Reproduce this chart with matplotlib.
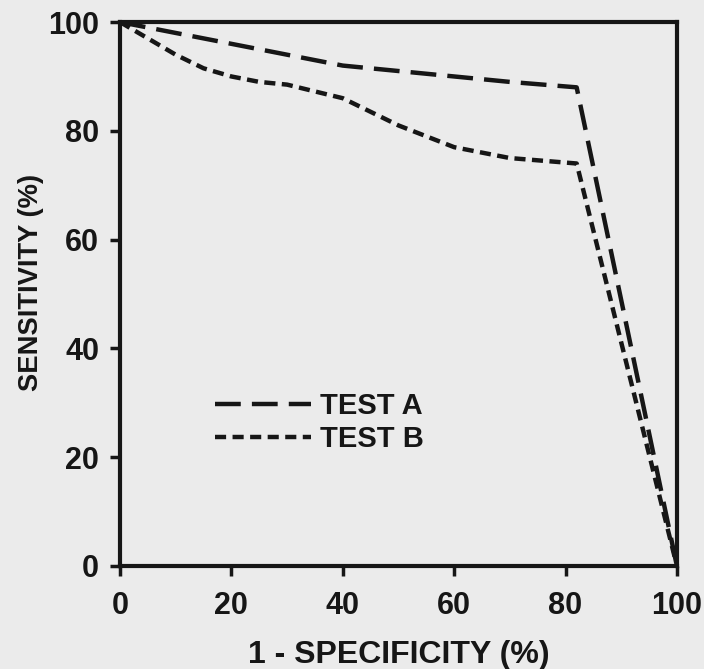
import matplotlib
matplotlib.use("Agg")
from matplotlib import pyplot as plt

# ROC curves (x = 1 - specificity, y = sensitivity, both %)
test_a_x = [0, 10, 20, 30, 40, 50, 60, 70, 82, 100]
test_a_y = [100, 98, 96, 94, 92, 91, 90, 89, 88, 0]

test_b_x = [0, 5, 10, 15, 20, 25, 30, 40, 50, 60, 70, 82, 100]
test_b_y = [100, 97, 94, 91.5, 90, 89, 88.5, 86, 81, 77, 75, 74, 0]

ticks = [0, 20, 40, 60, 80, 100]

plt.rcParams['font.family'] = ['Liberation Sans', 'DejaVu Sans']
plt.rcParams['font.weight'] = 'bold'

bg = '#ebebeb'
ink = '#161616'
fig = plt.figure(figsize=(7.04, 6.69), dpi=100, facecolor=bg)
ax = fig.add_axes([0.1705, 0.154, 0.791, 0.813], facecolor=bg)

lw = 3.2
ax.plot(test_a_x, test_a_y, color=ink, lw=lw,
        dashes=(5.8, 2.5), label='TEST A')
ax.plot(test_b_x, test_b_y, color=ink, lw=lw,
        dashes=(2.5, 1.45), label='TEST B')

ax.set_xlim(0, 100)
ax.set_ylim(0, 100)
ax.set_xticks(ticks)
ax.set_yticks(ticks)
ax.tick_params(direction='out', length=7, width=2.5, labelsize=22,
               colors=ink, pad=8)
ax.tick_params(axis='x', pad=11)
for lab in ax.get_xticklabels() + ax.get_yticklabels():
    lab.set_fontweight('bold')
for sp in ax.spines.values():
    sp.set_linewidth(3)
    sp.set_color(ink)

ax.set_xlabel('1 - SPECIFICITY (%)', fontsize=23, fontweight='bold', color=ink)
ax.xaxis.set_label_coords(0.5, -0.137)
ax.set_ylabel('SENSITIVITY (%)', fontsize=19.7, fontweight='bold', color=ink)
ax.yaxis.set_label_coords(-0.136, 0.521)

leg = ax.legend(loc='upper left', bbox_to_anchor=(0.17, 0.319),
                frameon=False, fontsize=21, handlelength=3.3,
                handletextpad=0.3, labelspacing=0.15,
                borderpad=0, borderaxespad=0)
for t in leg.get_texts():
    t.set_fontweight('bold')
    t.set_color(ink)

fig.savefig('out.png', dpi=100, facecolor=bg)
